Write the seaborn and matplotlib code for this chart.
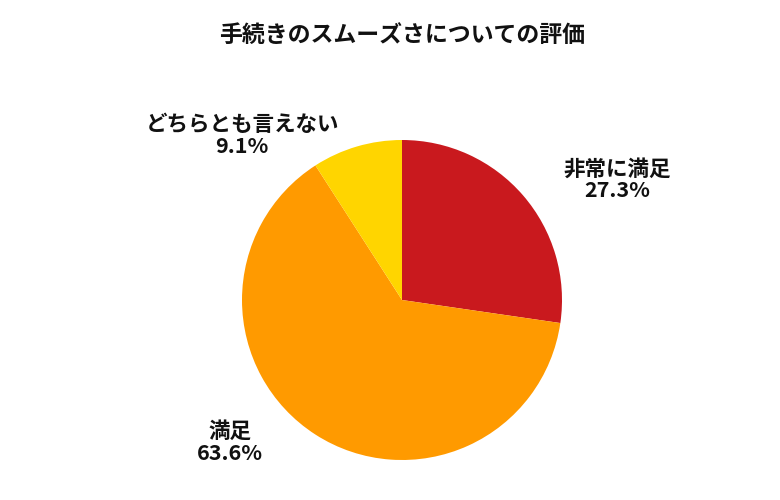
import matplotlib
matplotlib.use("Agg")
import matplotlib.pyplot as plt
import seaborn as sns

sns.set_theme(style="white")
plt.rcParams['font.family'] = ['Noto Sans CJK JP', 'DejaVu Sans']

labels = ["非常に満足", "満足", "どちらとも言えない"]
values = [27.3, 63.6, 9.1]
colors = ["#C9191E", "#FF9A00", "#FFD500"]
# label anchor points (in pie data units)
label_pos = [(2.69, 1.5), (-2.15, -1.78), (-2.0, 2.06)]

fig = plt.figure(figsize=(7.8, 5), dpi=100)
ax = fig.add_axes([202 / 780, 0.0, 400 / 780, 0.8])
ax.pie(values, colors=colors, startangle=90, counterclock=False, radius=2,
       wedgeprops={"linewidth": 0})
ax.set_xlim(-2.5, 2.5)
ax.set_ylim(-2.5, 2.5)
ax.set_aspect("equal")
ax.axis("off")

for name, v, (x, y) in zip(labels, values, label_pos):
    ax.text(x, y, f"{name}\n{v:.1f}%", ha="center", va="center",
            fontsize=15.5, fontweight="bold", linespacing=1.05, color="#111111")

fig.text(0.515, 0.93, "手続きのスムーズさについての評価", ha="center", va="center",
         fontsize=16.5, fontweight="bold", color="#111111")

fig.savefig("out.png", dpi=100)
